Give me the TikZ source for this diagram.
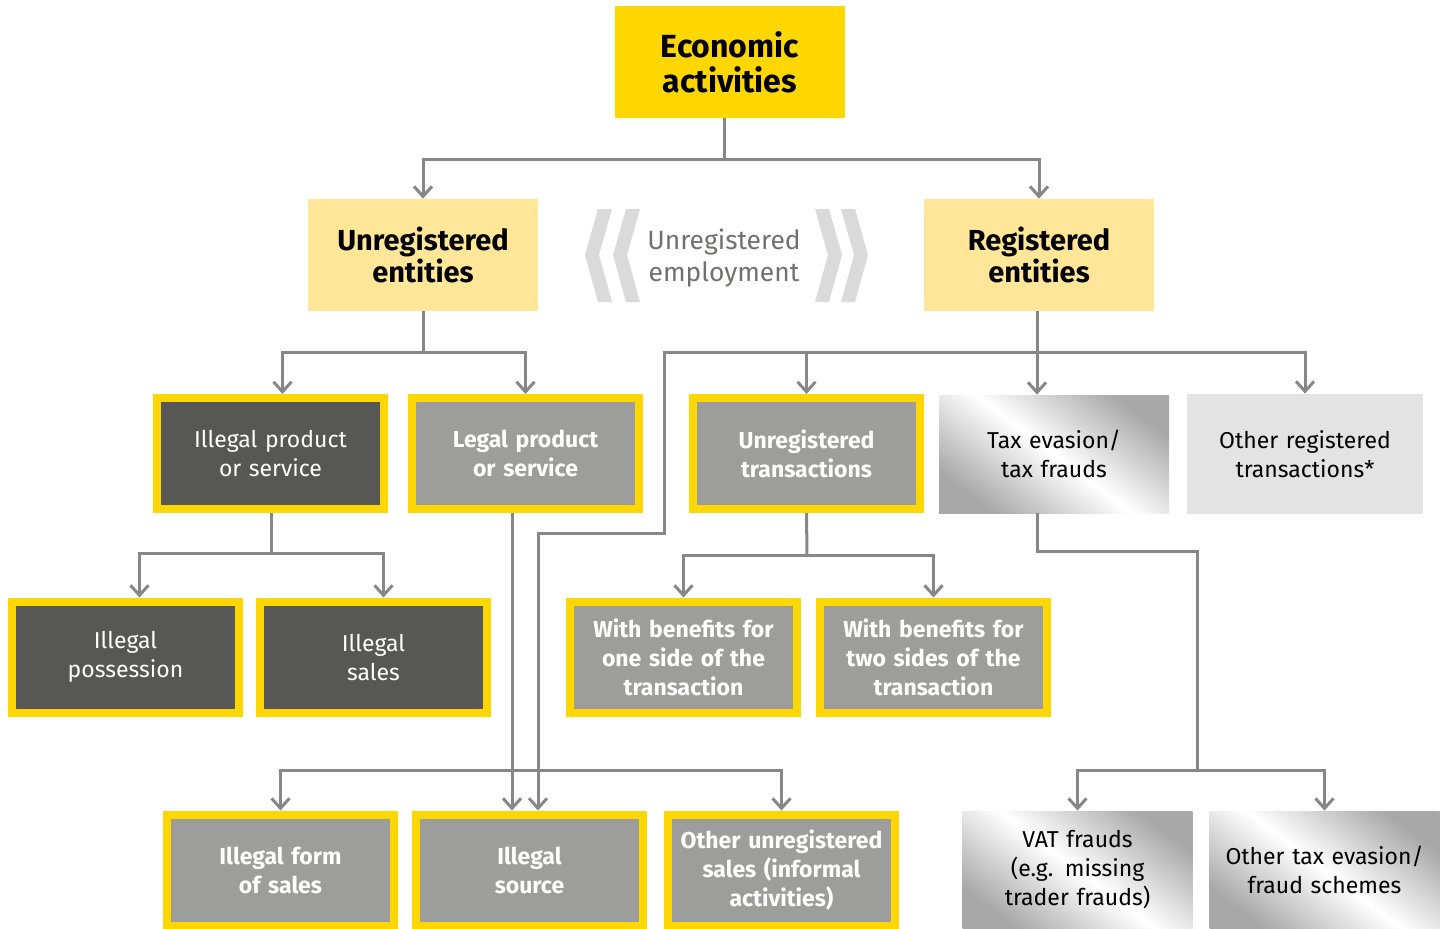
\documentclass[tikz,border=0pt]{standalone}
\usepackage{fontspec}
\setmainfont{Fira Sans}
\usetikzlibrary{arrows.meta, calc}
\definecolor{eyYellow}{RGB}{255,215,0}
\definecolor{paleYellow}{RGB}{255,230,153}
\definecolor{boxDark}{RGB}{87,87,86}
\definecolor{boxGrey}{RGB}{157,157,156}
\definecolor{boxLight}{RGB}{227,227,227}
\definecolor{lineGrey}{RGB}{135,135,135}
\definecolor{chevGrey}{RGB}{218,218,218}
\definecolor{textGrey}{RGB}{112,112,111}
\definecolor{silverDark}{RGB}{168,168,168}

\begin{document}
\begin{tikzpicture}[x=0.5pt, y=-0.5pt,
	link/.style={draw=lineGrey, line width=1.5pt},
	arr/.style={link, -{Straight Barb[length=5pt, width=9pt]}},
	box/.style={align=center, inner sep=0pt, text width=112pt,
		minimum width=113.5pt, minimum height=55.5pt,
		font=\fontsize{11.5}{14.5}\selectfont},
	darkbox/.style={box, fill=boxDark, draw=eyYellow, line width=4pt, text=white},
	greybox/.style={box, fill=boxGrey, draw=eyYellow, line width=4pt, text=white,
		font=\bfseries\fontsize{11.5}{14.5}\selectfont},
	silverbox/.style={box, minimum width=115pt, minimum height=59pt,
		left color=silverDark, right color=silverDark, middle color=white,
		shading angle=-37},
	lightbox/.style={box, fill=boxLight, minimum width=118pt, minimum height=60pt},
	headbox/.style={align=center, inner sep=0pt, minimum width=115pt, minimum height=56pt,
		font=\bfseries\fontsize{14.5}{14.5}\selectfont}]
	\useasboundingbox (0,0) rectangle (1445,928);
	
	% Top level
	\node[headbox, fill=eyYellow, font=\bfseries\fontsize{16}{17.5}\selectfont] (eco) at (730,62) {\raisebox{-1pt}{\parbox{110pt}{\centering Economic\\activities}}};
	\node[headbox, fill=paleYellow] (ue) at (423,255) {\raisebox{-1pt}{\parbox{110pt}{\centering Unregistered\\entities}}};
	\node[headbox, fill=paleYellow] (re) at (1039,255) {\raisebox{-1pt}{\parbox{110pt}{\centering Registered\\entities}}};
	
	% Double chevrons round the middle label
	\fill[chevGrey] (612,209) -- (598,209) -- (585,255) -- (598,302) -- (612,302) -- (599,255) -- cycle;
	\fill[chevGrey] (640,209) -- (626,209) -- (613,255) -- (626,302) -- (640,302) -- (627,255) -- cycle;
	\fill[chevGrey] (815,209) -- (829,209) -- (842,255) -- (829,302) -- (815,302) -- (828,255) -- cycle;
	\fill[chevGrey] (841,209) -- (855,209) -- (868,255) -- (855,302) -- (841,302) -- (854,255) -- cycle;
	\node[align=center, text=textGrey, font=\fontsize{13.2}{16}\selectfont] (emp) at (724,258) {Unregistered\\employment};
	
	% Second row
	\node[darkbox] (ips) at (270.5,453.5) {Illegal product\\or service};
	\node[greybox] (lps) at (525.5,453.5) {Legal product\\or service};
	\node[greybox] (utr) at (806.5,453.5) {Unregistered\\transactions};
	\node[silverbox] (tax) at (1054,454) {Tax evasion/\\tax frauds};
	\node[lightbox] (orp) at (1305,454) {Other registered\\transactions*};
	
	% Third row
	\node[darkbox] (ipo) at (125.5,657) {Illegal\\possession};
	\node[darkbox] (isa) at (373.5,657) {Illegal\\sales};
	\node[greybox] (ben1) at (683.5,657) {With benefits for\\one side of the\\transaction};
	\node[greybox] (ben2) at (933.5,657) {With benefits for\\two sides of the\\transaction};
	
	% Bottom row
	\node[greybox] (ifs) at (280.5,870) {Illegal form\\of sales};
	\node[greybox] (src) at (529.5,870) {Illegal\\source};
	\node[greybox] (ous) at (781.5,870) {Other unregistered\\sales (informal\\activities)};
	\node[silverbox] (vat) at (1077.5,870) {VAT frauds\\(e.g. missing\\trader frauds)};
	\node[silverbox] (otx) at (1324.5,870) {Other tax evasion/\\fraud schemes};
	
	% Junctions
	\coordinate (c0) at (724,159);
	\coordinate (c1) at (512,770);
	\coordinate (c2) at (1037,352);
	\coordinate (c3) at (664,533);
	\coordinate (c4) at (538,533);
	\coordinate (c5) at (423,352);
	\coordinate (c6) at (271,553);
	\coordinate (c7) at (807,555);
	\coordinate (c8) at (1037,551);
	\coordinate (c9) at (1197,770);
	
	% Connectors
	\draw[link] (c0 |- eco.south) -- (c0);
	\draw[arr] (c0) -| (ue.north);
	\draw[arr] (c0) -| (re.north);
	
	\draw[link] (ue.south) -- (c5);
	\draw[arr] (c5) -| ([xshift=6pt]ips.north);
	\draw[arr] (c5) -| (lps.north);
	
	\draw[link] (c2 |- re.south) -- (c2);
	\draw[arr] (c2) -- (c2 |- tax.north);
	\draw[arr] (c2) -| (orp.north);
	\draw[arr] (c2) -| (utr.north);
	\draw[arr] (c2) -| (c3) -- (c4) -- (c4 |- src.north);
	
	\draw[link] (c6 |- ips.south) -- (c6);
	\draw[arr] (c6) -| ([xshift=7pt]ipo.north);
	\draw[arr] (c6) -| ([xshift=5pt]isa.north);
	
	\draw[link] (utr.south) -- (c7);
	\draw[arr] (c7) -| (ben1.north);
	\draw[arr] (c7) -| (ben2.north);
	
	\draw[arr] (c1 |- lps.south) -- (c1 |- src.north);
	\draw[arr] (c1) -| (ifs.north);
	\draw[arr] (c1) -| (ous.north);
	
	\draw[link] (c8 |- tax.south) -- (c8) -| (c9);
	\draw[arr] (c9) -| (vat.north);
	\draw[arr] (c9) -| (otx.north);
\end{tikzpicture}
\end{document}
